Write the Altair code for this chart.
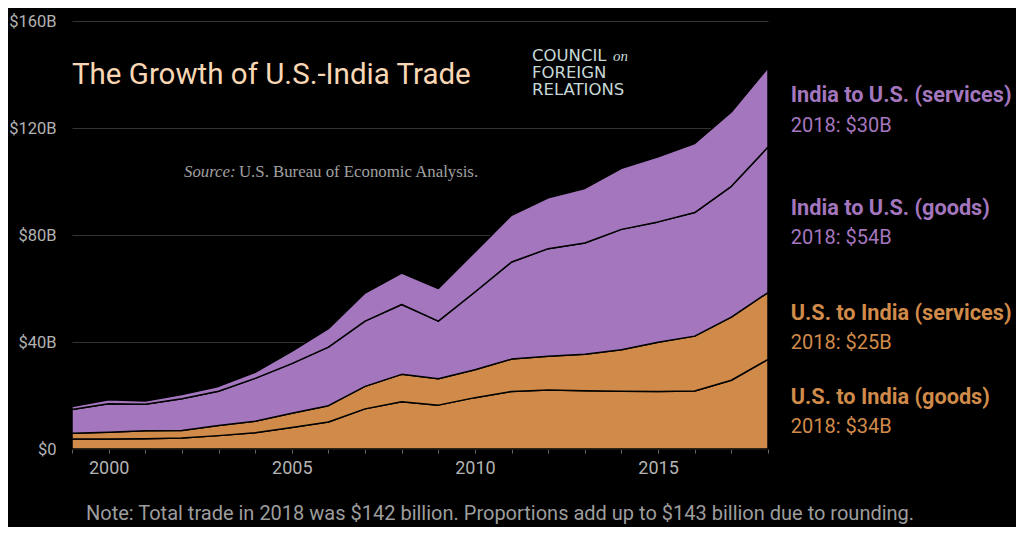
import altair as alt
import pandas as pd

years = list(range(1999, 2019))
us_goods = [3.7, 3.7, 3.8, 4.1, 5.0, 6.1, 8.0, 10.1, 15.0, 17.7, 16.4, 19.2, 21.5, 22.1, 21.8, 21.6, 21.5, 21.7, 25.7, 33.5]
us_services = [2.2, 2.6, 3.0, 2.8, 3.8, 4.3, 5.4, 6.1, 8.4, 10.2, 9.9, 10.4, 12.1, 12.6, 13.6, 15.5, 18.4, 20.5, 23.6, 25.0]
india_goods = [8.9, 10.6, 9.9, 11.9, 12.8, 16.0, 18.5, 21.9, 24.4, 26.1, 21.5, 29.1, 36.3, 40.2, 41.6, 45.0, 45.0, 46.2, 48.9, 54.4]
india_services = [1.1, 1.5, 1.2, 1.6, 1.8, 2.3, 4.6, 6.9, 10.5, 11.8, 12.2, 15.0, 17.5, 19.0, 20.4, 22.8, 24.3, 25.8, 27.8, 29.6]

series_names = ["U.S. to India (goods)", "U.S. to India (services)",
                "India to U.S. (goods)", "India to U.S. (services)"]
series_values = [us_goods, us_services, india_goods, india_services]
label_values = ["2018: $34B", "2018: $25B", "2018: $54B", "2018: $30B"]
y_ticks = [0, 40, 80, 120, 160]

PURPLE = "#a476be"
ORANGE = "#d08b4a"
colors = [ORANGE, ORANGE, PURPLE, PURPLE]

rows = []
for i, (name, vals) in enumerate(zip(series_names, series_values)):
    for yr, v in zip(years, vals):
        rows.append({"year": yr, "series": name, "value": v, "order": i})
df = pd.DataFrame(rows)

FONT = "Roboto"

area = alt.Chart(df).mark_area(
    stroke="black", strokeWidth=1.5, strokeJoin="round", interpolate="linear"
).encode(
    x=alt.X("year:Q",
            scale=alt.Scale(domain=[1999, 2018], nice=False, zero=False),
            axis=alt.Axis(values=years, format="d",
                          labelExpr="datum.value % 5 == 0 ? datum.value : ''",
                          grid=False, tickSize=4, tickColor="#666", domainColor="#555",
                          labelColor="#b3b3b3", labelFontSize=18, labelFont=FONT,
                          labelPadding=6, labelOverlap=False, labelFlush=False, title=None)),
    y=alt.Y("value:Q", stack="zero",
            scale=alt.Scale(domain=[0, 160], nice=False),
            axis=alt.Axis(values=y_ticks,
                          labelExpr="datum.value == 0 ? '$0' : '$' + datum.value + 'B'",
                          grid=True, gridColor="#333", gridWidth=1, ticks=False, domain=False,
                          labelColor="#b3b3b3", labelFontSize=16.5, labelFont=FONT,
                          labelPadding=16, title=None)),
    color=alt.Color("series:N", scale=alt.Scale(domain=series_names, range=colors), legend=None),
    order=alt.Order("order:Q", sort="ascending"),
)


def txt(text, x, y, size, color, font=FONT, weight="normal", style="normal"):
    return alt.Chart(pd.DataFrame({"t": [text]})).mark_text(
        align="left", baseline="alphabetic", fontSize=size, color=color,
        font=font, fontWeight=weight, fontStyle=style
    ).encode(text="t:N", x=alt.value(x), y=alt.value(y))


layers = [area]
# title
layers.append(txt("The Growth of U.S.-India Trade", 0, 63, 29.5, "#f9d7b5"))
# logo
LOGO = "#c6d9d8"
layers.append(txt("COUNCIL", 460, 39.5, 16.5, LOGO, font="DejaVu Sans"))
layers.append(txt("on", 541, 39.5, 15, LOGO, font="Liberation Serif", style="italic"))
layers.append(txt("FOREIGN", 460, 56.5, 16.5, LOGO, font="DejaVu Sans"))
layers.append(txt("RELATIONS", 460, 73.5, 16.5, LOGO, font="DejaVu Sans"))
# source
layers.append(txt("Source:", 112, 156, 16.8, "#a0a0a0", font="Liberation Serif", style="italic"))
layers.append(txt("U.S. Bureau of Economic Analysis.", 167, 156, 16.8, "#a0a0a0", font="Liberation Serif"))
# series labels (top to bottom)
lab_y = [(80.7, 110.7), (194, 223.3), (299, 328.3), (383, 412.3)]
for idx, (yl, yv) in zip([3, 2, 1, 0], lab_y):
    col = colors[idx]
    layers.append(txt(series_names[idx], 718.7, yl, 21.7, col, weight="bold"))
    layers.append(txt(label_values[idx], 718.7, yv, 20, col))
# note
layers.append(txt("Note: Total trade in 2018 was $142 billion. Proportions add up to $143 billion due to rounding.",
                  14, 499, 20, "#9d9d9d"))

chart = alt.layer(*layers).properties(
    width=696, height=428,
    autosize=alt.AutoSizeParams(type="none"),
    padding={"left": 64, "top": 13, "right": 248, "bottom": 78},
).configure(background="#000000").configure_view(stroke=None)

chart.save("out.html", embed_options={"renderer": "svg", "actions": False})
